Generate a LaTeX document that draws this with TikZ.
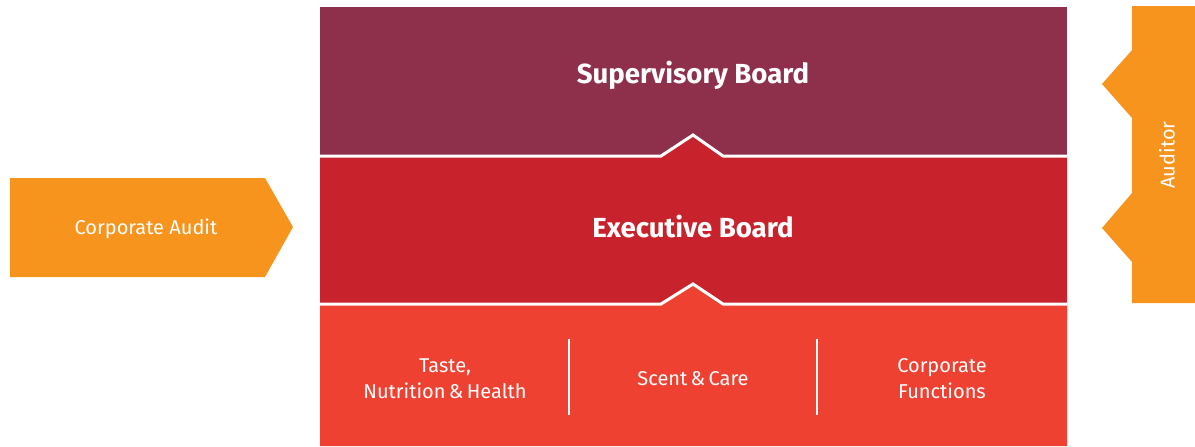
\documentclass[tikz,border=0pt]{standalone}
\usepackage{fontspec}
\setmainfont{Fira Sans}
\usepackage{xcolor}
\definecolor{boardSup}{HTML}{8E2F4B}
\definecolor{boardExe}{HTML}{C8232C}
\definecolor{boardOps}{HTML}{EF4131}
\definecolor{auditOrg}{HTML}{F7941E}
\usepackage{tikz}
\usetikzlibrary{positioning}

\begin{document}
\begin{tikzpicture}[
  x=0.5pt, y=-0.5pt,
  title/.style={text=white, font=\fontsize{13.8}{16}\selectfont\bfseries, align=center},
  label/.style={text=white, font=\fontsize{10}{13}\selectfont, align=center},
  gap/.style={draw=white, line width=1.5pt},
  divider/.style={draw=white, line width=1pt}
]
  \useasboundingbox (0,0) rectangle (1195,446);

  % Boards
  \fill[boardSup] (320,7) rectangle (1067,170);
  \fill[boardExe] (320,156) -- (661,156) -- (693,135) -- (723,156) -- (1067,156)
    -- (1067,320) -- (320,320) -- cycle;
  \fill[boardOps] (320,304) -- (661,304) -- (693,284) -- (723,304) -- (1067,304)
    -- (1067,446) -- (320,446) -- cycle;
  \draw[gap] (320,156) -- (661,156) -- (693,135) -- (723,156) -- (1067,156);
  \draw[gap] (320,304) -- (661,304) -- (693,284) -- (723,304) -- (1067,304);

  % Audit shapes
  \fill[auditOrg] (10,178) -- (265,178) -- (293,227) -- (265,277) -- (10,277) -- cycle;
  \fill[auditOrg] (1132,6) -- (1195,6) -- (1195,303) -- (1132,303) -- (1132,262)
    -- (1102,228) -- (1132,193) -- (1132,118) -- (1102,84) -- (1132,50) -- cycle;

  \node[title] (sup) at (693,75) {Supervisory Board};
  \node[title] (exe) at (693,227) {Executive Board};
  \node[label] (caudit) at (146,229) {Corporate Audit};
  \node[label, rotate=90] (auditor) at (1167,155) {Auditor};

  % Divisions
  \node[label] (tnh) at (445,379) {Taste,\\Nutrition\,\&\,Health};
  \node[label] (sc) at (693,379) {Scent\,\&\,Care};
  \node[label] (cf) at (942,379) {Corporate\\Functions};
  \coordinate (d1t) at (569,339);
  \coordinate (d1b) at (569,415);
  \coordinate (d2t) at (817,339);
  \coordinate (d2b) at (817,415);
  \draw[divider] (d1t) -- (d1b);
  \draw[divider] (d2t) -- (d2b);
\end{tikzpicture}
\end{document}
